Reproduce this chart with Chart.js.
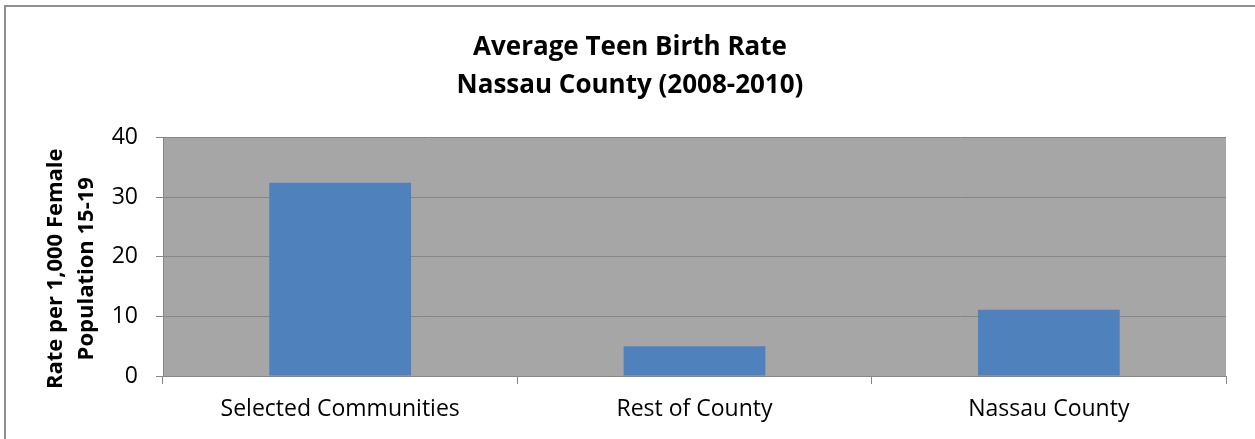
<!DOCTYPE html>
<html>
<head>
<meta charset="utf-8">
<script src="https://cdn.jsdelivr.net/npm/chart.js@4"></script>
<style>
  html, body { margin: 0; padding: 0; background: #fff; }
  #wrap { position: relative; width: 1255px; height: 439px; overflow: hidden; }
  #frame { position: absolute; left: 4px; top: 5px; width: 1300px; height: 500px;
           border-left: 2px solid #8f8f8f; border-top: 2px solid #8f8f8f; pointer-events: none; }
</style>
</head>
<body>
<div id="wrap">
  <canvas id="c" width="1255" height="439"></canvas>
  <div id="frame"></div>
</div>
<script>
const categories = ["Selected Communities", "Rest of County", "Nassau County"];
const rates = [32.4, 5.0, 11.1];
const yTicks = [0, 10, 20, 30, 40];
const chartTitle = ["Average Teen Birth Rate", "Nassau County (2008-2010)"];
const yAxisTitle = ["Rate per 1,000 Female", "Population 15-19"];

const FONT = "'Open Sans', sans-serif";

const plotBg = {
  id: 'plotBg',
  beforeDraw(chart) {
    const {ctx, chartArea: a} = chart;
    ctx.save();
    ctx.fillStyle = '#A6A6A6';
    ctx.fillRect(a.left, a.top, a.right - a.left, a.bottom - a.top);
    ctx.restore();
  }
};

const yTitle = {
  id: 'yTitle',
  afterDraw(chart) {
    const {ctx, chartArea: a} = chart;
    ctx.save();
    ctx.font = "bold 22px " + FONT;
    ctx.fillStyle = '#000';
    ctx.textAlign = 'center';
    ctx.textBaseline = 'middle';
    const cy = (a.top + a.bottom) / 2 + 12;
    const xs = [56, 87];
    yAxisTitle.forEach((t, i) => {
      ctx.save();
      ctx.translate(xs[i], cy);
      ctx.rotate(-Math.PI / 2);
      ctx.fillText(t, 0, 0);
      ctx.restore();
    });
    ctx.restore();
  }
};

new Chart(document.getElementById('c'), {
  type: 'bar',
  data: {
    labels: categories,
    datasets: [{
      data: rates,
      backgroundColor: '#4F81BD',
      borderWidth: 0,
      barPercentage: 0.4,
      categoryPercentage: 1.0
    }]
  },
  options: {
    responsive: false,
    animation: false,
    devicePixelRatio: 1,
    layout: { padding: { left: 34, right: 29, top: 0, bottom: 0 } },
    plugins: {
      legend: { display: false },
      tooltip: { enabled: false },
      title: {
        display: true,
        text: chartTitle,
        color: '#000',
        font: { family: FONT, size: 26, weight: 'bold', lineHeight: 1.46 },
        padding: { top: 28.2, bottom: 33.4 }
      }
    },
    scales: {
      x: {
        grid: { display: true, drawOnChartArea: false, drawTicks: true, tickLength: 8, color: '#868686', offset: true },
        border: { display: true, color: '#868686', width: 1 },
        ticks: { color: '#000', font: { family: FONT, size: 23 }, padding: 12, maxRotation: 0 },
        afterFit(scale) { scale.height = 63; }
      },
      y: {
        min: 0, max: 40,
        afterBuildTicks(scale) { scale.ticks = yTicks.map(v => ({ value: v })); },
        grid: { color: '#868686', tickLength: 7, drawTicks: true },
        border: { display: true, color: '#868686', width: 1 },
        ticks: { color: '#000', font: { family: FONT, size: 23 }, padding: 18 },
        afterFit(scale) { scale.width = 129; }
      }
    }
  },
  plugins: [plotBg, yTitle]
});
</script>
</body>
</html>
